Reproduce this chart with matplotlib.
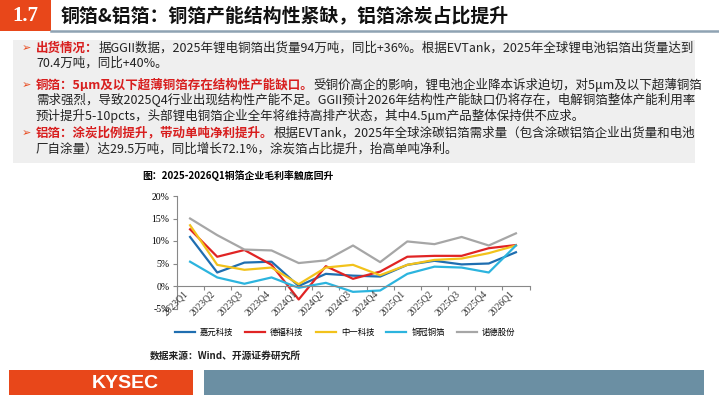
import matplotlib
matplotlib.use('Agg')
import matplotlib.pyplot as plt
from matplotlib.patches import Rectangle
from matplotlib.lines import Line2D

plt.rcParams['font.family'] = ['Noto Sans CJK SC', 'DejaVu Sans']

quarters = ['2023Q1', '2023Q2', '2023Q3', '2023Q4', '2024Q1', '2024Q2', '2024Q3',
            '2024Q4', '2025Q1', '2025Q2', '2025Q3', '2025Q4', '2026Q1']
jiayuan = [10.9, 3.0, 5.2, 5.4, 0.0, 2.7, 2.3, 2.1, 4.7, 5.6, 4.8, 5.0, 7.5]
defu = [12.6, 6.5, 8.0, 4.7, -3.0, 4.4, 1.6, 3.2, 6.5, 6.7, 6.7, 8.4, 9.1]
zhongyi = [13.5, 4.7, 3.6, 4.1, 0.4, 4.1, 4.7, 2.4, 4.7, 5.8, 6.1, 7.3, 9.0]
tongguan = [5.4, 1.9, 0.5, 1.9, -0.4, 0.7, -1.3, -1.0, 2.7, 4.3, 4.1, 3.0, 9.0]
nuode = [15.0, 11.3, 8.1, 7.9, 5.1, 5.7, 9.0, 5.3, 9.9, 9.3, 10.9, 9.0, 11.7]
names = ['嘉元科技', '德福科技', '中一科技', '铜冠铜箔', '诺德股份']
colors = ['#1f6eb0', '#e02424', '#f2c21b', '#2cb4de', '#a6a6a6']
yticks = [-5, 0, 5, 10, 15, 20]

W, H = 719, 405
RED = '#d81e1e'
ORANGE = '#e8471a'

fig = plt.figure(figsize=(W / 100, H / 100), dpi=100)
renderer = fig.canvas.get_renderer()


def fx(x):
    return x / W


def fy(y):
    return 1 - y / H


# header
fig.add_artist(Rectangle((0, fy(31)), fx(51), 31 / H, transform=fig.transFigure,
                         color=ORANGE, lw=0))
fig.text(fx(25), fy(16), '1.7', color='white', fontsize=15, fontweight='bold',
         family='Liberation Serif', ha='center', va='center')
fig.text(fx(61), fy(16), '铜箔&铝箔：铜箔产能结构性紧缺，铝箔涂炭占比提升', fontsize=13.6,
         fontweight='bold', ha='left', va='center', color='#111111')
fig.add_artist(Line2D([fx(51), 1], [fy(30.5), fy(30.5)], transform=fig.transFigure,
                      color='#8fa3b3', lw=1.8))

# text box
fig.add_artist(Rectangle((fx(13), fy(163)), fx(682), 123 / H, transform=fig.transFigure,
                         color='#efefef', lw=0))

body = [
    (48, True, [('出货情况：', RED, 'bold'),
                ('据GGII数据，2025年锂电铜箔出货量94万吨，同比+36%。根据EVTank，2025年全球锂电池铝箔出货量达到', '#222222', 'normal')]),
    (63, False, [('70.4万吨，同比+40%。', '#222222', 'normal')]),
    (85, True, [('铜箔：5μm及以下超薄铜箔存在结构性产能缺口。', RED, 'bold'),
                ('受铜价高企的影响，锂电池企业降本诉求迫切，对5μm及以下超薄铜箔', '#222222', 'normal')]),
    (100, False, [('需求强烈，导致2025Q4行业出现结构性产能不足。GGII预计2026年结构性产能缺口仍将存在，电解铜箔整体产能利用率', '#222222', 'normal')]),
    (116, False, [('预计提升5-10pcts，头部锂电铜箔企业全年将维持高排产状态，其中4.5μm产品整体保持供不应求。', '#222222', 'normal')]),
    (133, True, [('铝箔：涂炭比例提升，带动单吨净利提升。', RED, 'bold'),
                 ('根据EVTank，2025年全球涂碳铝箔需求量（包含涂碳铝箔企业出货量和电池', '#222222', 'normal')]),
    (149, False, [('厂自涂量）达29.5万吨，同比增长72.1%，涂炭箔占比提升，抬高单吨净利。', '#222222', 'normal')]),
]
for y, bullet, parts in body:
    if bullet:
        fig.text(fx(22), fy(y), '➢', color=ORANGE, fontsize=8, ha='left', va='center',
                 family=['DejaVu Sans'])
    x = 36
    for s, c, w in parts:
        t = fig.text(fx(x), fy(y), s, color=c, fontsize=9.0, fontweight=w,
                     ha='left', va='center')
        x += t.get_window_extent(renderer).width

# chart
fig.text(fx(142), fy(176), '图：2025-2026Q1铜箔企业毛利率触底回升', fontsize=7.1,
         fontweight='bold', ha='left', va='center')

ax = fig.add_axes([fx(176.5), fy(308.5), 353 / W, 112.5 / H])
xs = list(range(len(quarters)))
for vals, name, c in zip([jiayuan, defu, zhongyi, tongguan, nuode], names, colors):
    ax.plot(xs, vals, color=c, lw=1.6, label=name)

ax.set_xlim(-0.5, len(quarters) - 0.5)
ax.set_ylim(-5, 20)
ax.set_yticks(yticks)
ax.set_yticklabels([f'{v}%' for v in yticks], family='Liberation Serif', fontsize=7)
ax.spines['top'].set_visible(False)
ax.spines['right'].set_visible(False)
ax.spines['left'].set_color('#888888')
ax.spines['bottom'].set_position(('data', 0))
ax.spines['bottom'].set_color('#888888')
ax.set_xticks([i - 0.5 for i in range(len(quarters) + 1)])
ax.set_xticklabels([])
ax.tick_params(axis='x', length=3, color='#888888', direction='out')
ax.tick_params(axis='y', length=3, color='#888888', pad=2)
for i, q in enumerate(quarters):
    ax.text(i, -0.6, q, rotation=45, ha='right', va='top', fontsize=7,
            family='Liberation Serif', color='#333333')

ax.legend(loc='center', bbox_to_anchor=(fx(345), fy(332)), bbox_transform=fig.transFigure,
          ncol=5, frameon=False, fontsize=6, handlelength=2.4, columnspacing=1.45,
          handletextpad=0.6)

fig.text(fx(150), fy(356), '数据来源：Wind、开源证券研究所', fontsize=7,
         fontweight='bold', ha='left', va='center', color='#222222')

# footer
fig.add_artist(Rectangle((fx(9), fy(395)), fx(184), 25 / H, transform=fig.transFigure,
                         color=ORANGE, lw=0))
fig.text(fx(125), fy(383), 'KYSEC', color='white', fontsize=14, fontweight='bold',
         family='Liberation Sans', ha='center', va='center')
fig.add_artist(Rectangle((fx(204), fy(395)), fx(500), 25 / H, transform=fig.transFigure,
                         color='#6b8fa3', lw=0))

fig.savefig('out.png', dpi=100)
